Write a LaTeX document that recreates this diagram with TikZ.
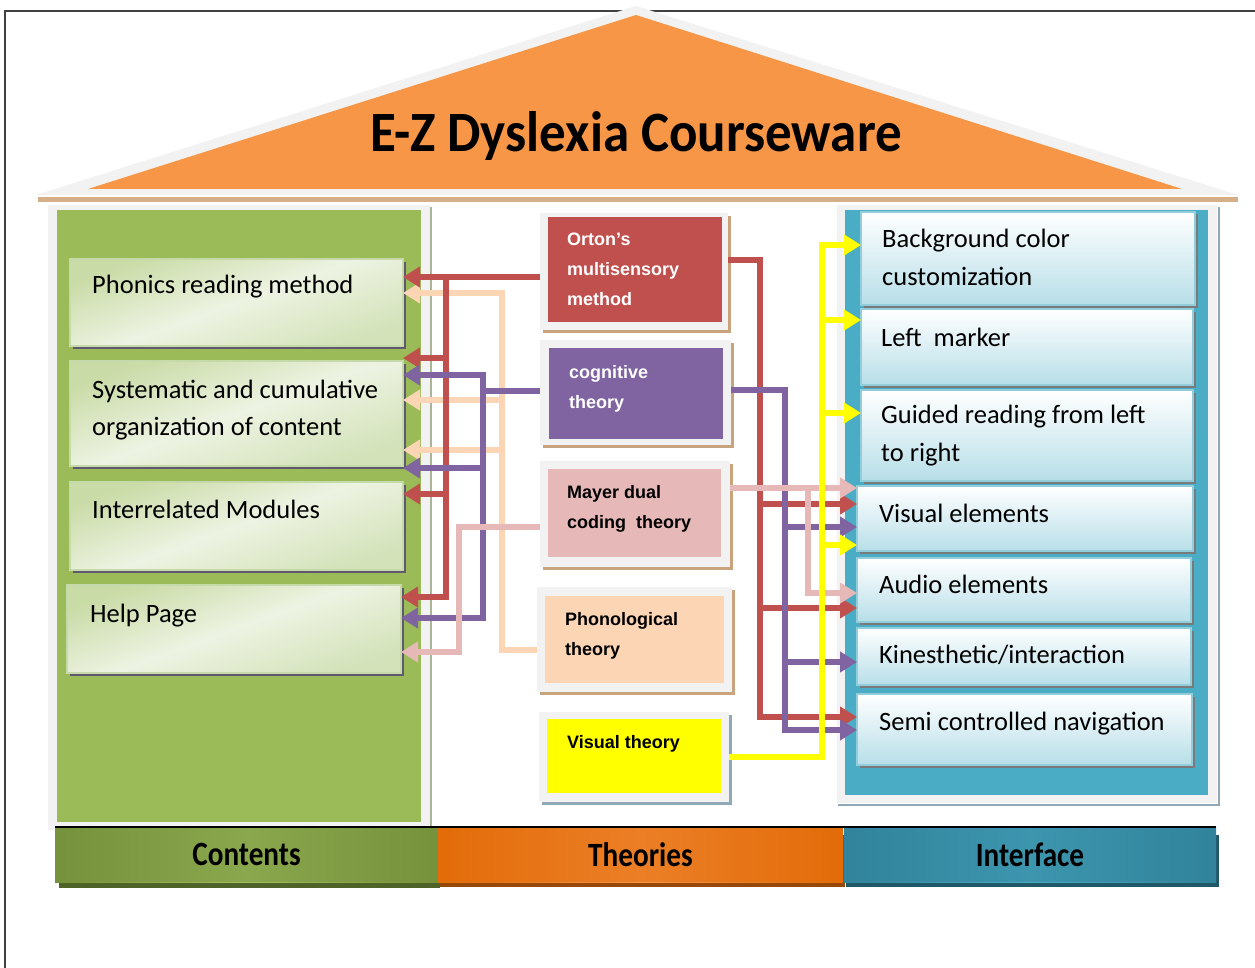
\documentclass[tikz,border=0pt]{standalone}
\usepackage{fontspec}
\usepackage{graphicx}
\setmainfont{Carlito}
\newfontfamily\thfont{Liberation Sans}
\usetikzlibrary{arrows.meta,fadings}
\definecolor{cRed}{HTML}{C0504D}
\definecolor{cPur}{HTML}{8064A2}
\definecolor{cPea}{HTML}{FCD5B5}
\definecolor{cPnk}{HTML}{E6B9B8}
\definecolor{cYel}{HTML}{FFFF00}
\definecolor{cOra}{HTML}{F79646}
\definecolor{cGry}{HTML}{F2F2F2}
\definecolor{cGrn}{HTML}{9BBB59}
\definecolor{cTeal}{HTML}{4BACC6}
\definecolor{cFrame}{HTML}{404040}
\definecolor{cTan}{HTML}{D6AE88}
\definecolor{lBord}{HTML}{C6D9A8}
\definecolor{lTop}{HTML}{C9DBA6}
\definecolor{lMid}{HTML}{EDF3E2}
\definecolor{lBot}{HTML}{D3E2B9}
\definecolor{lShad}{HTML}{5E5873}
\definecolor{rBord}{HTML}{92CDDC}
\definecolor{rBot}{HTML}{B7DEE8}
\definecolor{rShad}{HTML}{7A7A7A}
\definecolor{tShad}{HTML}{C9A27E}
\definecolor{vShad}{HTML}{8FA8B8}
\definecolor{gE}{HTML}{76923C}
\definecolor{gC}{HTML}{A3C263}
\definecolor{gS}{HTML}{4F6228}
\definecolor{oE}{HTML}{E36C09}
\definecolor{oC}{HTML}{F7964A}
\definecolor{oS}{HTML}{984806}
\definecolor{tE}{HTML}{31849B}
\definecolor{tC}{HTML}{4BACC6}
\definecolor{tS}{HTML}{215868}
\tikzfading[name=vband, top color=transparent!45, middle color=transparent!100, bottom color=transparent!45]
\newcommand\mlines[1]{\begin{tabular}[t]{@{}l@{}}#1\end{tabular}}
\begin{document}
\begin{tikzpicture}[x=1pt,y=-1pt,
  conn/.style={line width=6pt, line join=miter},
  arrowend/.style={-{Triangle[length=17pt,width=20pt]}},
  lbox/.style={draw=lBord, line width=2pt, top color=lTop, bottom color=lBot, middle color=lMid, shading angle=20,
     inner sep=0pt, outer sep=0pt, anchor=north west,
     preaction={fill=lShad, transform canvas={shift={(3pt,-3pt)}}}},
  rbox/.style={draw=rBord, line width=2pt, top color=white, bottom color=rBot,
     inner sep=0pt, outer sep=0pt, anchor=north west,
     preaction={fill=rShad, transform canvas={shift={(2.5pt,-2.5pt)}}}},
  tframe/.style={fill=cGry, inner sep=0pt, outer sep=0pt, anchor=north west,
     preaction={fill=#1, transform canvas={shift={(3pt,-3pt)}}}},
  ltext/.style={anchor=base west, inner sep=0pt, font=\fontsize{26.5}{37}\selectfont},
  rtext/.style={anchor=base west, inner sep=0pt, font=\fontsize{26.5}{38}\selectfont},
  ttext/.style={anchor=base west, inner sep=0pt, font=\thfont\bfseries\fontsize{18}{30}\selectfont},
  bar/.style n args={2}{shade, left color=#1, right color=#1, middle color=#2,
     postaction={fill=#1, path fading=vband}, inner sep=0pt, outer sep=0pt, anchor=north west,
     font=\fontsize{34}{36}\selectfont\bfseries}
]
\useasboundingbox (0,0) rectangle (1255,968);
\fill[white] (0,0) rectangle (1255,968);
\draw[cFrame, line width=1.5pt] (5,970) -- (5,11) -- (1257,11);

% roof
\fill[cGry] (636,6) -- (1238,195) -- (36,195) -- cycle;
\fill[cOra] (636,15) -- (1182,189) -- (88,189) -- cycle;
\node[anchor=base, inner sep=0pt, font=\fontsize{57}{60}\selectfont\bfseries] (title) at (636,152)
  {\scalebox{0.93}[1]{E-Z Dyslexia Courseware}};
\fill[cTan] (38,197) rectangle (1238,202);

% panels
\fill[cGry] (48,205) rectangle (430,830);
\fill[cGrn] (57,210) rectangle (421,822);
\draw[lBord!60!gray, line width=1.5pt] (431,207) -- (431,828);
\fill[cGry] (837,205) rectangle (1217,803);
\fill[cTeal] (845,210) rectangle (1208,795);
\draw[vShad, line width=2pt] (838,805) -- (1219,805) -- (1219,207);

% left boxes
\node[lbox, minimum width=333pt, minimum height=87pt] (phon) at (70,259) {};
\node[lbox, minimum width=333pt, minimum height=105pt] (sys) at (70,361) {};
\node[lbox, minimum width=333pt, minimum height=88pt] (inter) at (70,482) {};
\node[lbox, minimum width=334pt, minimum height=88pt] (help) at (67,585) {};
\node[ltext] (phonT) at (92,294) {Phonics reading method};
\node[ltext] (sysT) at (92,398) {\mlines{Systematic and cumulative\\organization of content}};
\node[ltext] (interT) at (92,518) {Interrelated Modules};
\node[ltext] (helpT) at (90,622) {Help Page};

% theory boxes
\node[tframe=tShad, minimum width=188pt, minimum height=117pt] (orton) at (540,213) {};
\fill[cRed] (548,217) rectangle (722,322);
\node[tframe=tShad, minimum width=191pt, minimum height=105pt] (cog) at (540,340) {};
\fill[cPur] (549,348) rectangle (723,439);
\node[tframe=tShad, minimum width=190pt, minimum height=106pt] (mayer) at (540,461) {};
\fill[cPnk] (548,469) rectangle (721,557);
\node[tframe=tShad, minimum width=195pt, minimum height=105pt] (phono) at (537,587) {};
\fill[cPea] (545,596) rectangle (724,683);
\node[tframe=vShad, minimum width=190pt, minimum height=90pt] (vth) at (539,712) {};
\fill[cYel] (547,719) rectangle (721,793);
\node[ttext, text=white] (ortonT) at (567,246) {\mlines{Orton’s\\multisensory\\method}};
\node[ttext, text=white] (cogT) at (569,378) {\mlines{cognitive\\theory}};
\node[ttext] (mayerT) at (567,498) {\mlines{Mayer dual\\coding\ \ theory}};
\node[ttext] (phonoT) at (565,625) {\mlines{Phonological\\theory}};
\node[ttext] (vthT) at (567,748) {Visual theory};

% right boxes
\node[rbox, minimum width=334pt, minimum height=93pt] (bg) at (861,212) {};
\node[rbox, minimum width=332pt, minimum height=76pt] (lm) at (861,309) {};
\node[rbox, minimum width=332pt, minimum height=91pt] (gr) at (861,390) {};
\node[rbox, minimum width=336pt, minimum height=65pt] (vis) at (857,486) {};
\node[rbox, minimum width=334pt, minimum height=64pt] (aud) at (857,558) {};
\node[rbox, minimum width=334pt, minimum height=57pt] (kin) at (857,628) {};
\node[rbox, minimum width=335pt, minimum height=71pt] (semi) at (857,694) {};
\node[rtext] (bgT) at (882,248) {\mlines{Background color\\customization}};
\node[rtext] (lmT) at (881,346) {Left\ \ marker};
\node[rtext] (grT) at (881,423) {\mlines{Guided reading from left\\to right}};
\node[rtext] (visT) at (879,522) {Visual elements};
\node[rtext] (audT) at (879,593) {Audio elements};
\node[rtext] (kinT) at (879,663) {Kinesthetic/interaction};
\node[rtext] (semiT) at (879,730) {Semi controlled navigation};

% bottom bars
\fill[gS] (59,835) rectangle (440,888);
\fill[oS] (440,835) rectangle (845,887);
\fill[tS] (846,835) rectangle (1219,887);
\node[bar={gE}{gC}, minimum width=383pt, minimum height=55pt] (barC) at (55,827) {\scalebox{0.86}[1]{Contents}};
\node[bar={oE}{oC}, minimum width=405pt, minimum height=55pt] (barT) at (438,827) {\scalebox{0.86}[1]{Theories}};
\node[bar={tE}{tC}, minimum width=372pt, minimum height=55pt] (barI) at (844,827) {\scalebox{0.86}[1]{Interface}};
\draw[black, line width=1.2pt] (barC.north west) -- (barI.north east);

% ---- connectors: left side ----
\coordinate (hT) at (502,293);
\coordinate (hB) at (502,650);
\draw[conn, cPea, arrowend] (phono.west |- hB) -- (hB) -- (hT) -- (phon.east |- hT);
\draw[conn, cPea, arrowend] (hT |- 0,400) -- (sys.east |- 0,400);
\draw[conn, cPea, arrowend] (hT |- 0,450) -- (sys.east |- 0,450);

\coordinate (rT) at (446,277);
\coordinate (rB) at (446,597);
\draw[conn, cRed, arrowend] (orton.west |- rT) -- (phon.east |- rT);
\draw[conn, cRed, arrowend] (rT) -- (rB) -- (help.east |- rB);
\draw[conn, cRed, arrowend] (rT |- 0,358) -- (sys.east |- 0,358);
\draw[conn, cRed, arrowend] (rT |- 0,494) -- (inter.east |- 0,494);

\coordinate (pT) at (483,375);
\coordinate (pB) at (483,618);
\coordinate (pC) at (483,391);
\draw[conn, cPur] (cog.west |- pC) -- (pC);
\draw[conn, cPur, arrowend] (pB) -- (pT) -- (sys.east |- pT);
\draw[conn, cPur, arrowend] (pT) -- (pB) -- (help.east |- pB);
\draw[conn, cPur, arrowend] (pT |- 0,468) -- (sys.east |- 0,468);

\coordinate (kT) at (459,527);
\coordinate (kB) at (459,652);
\draw[conn, cPnk, arrowend] (mayer.west |- kT) -- (kT) -- (kB) -- (help.east |- kB);

% ---- connectors: right side ----
\coordinate (RT) at (760,260);
\coordinate (RB) at (760,717);
\draw[conn, cRed, arrowend] (orton.east |- RT) -- (RT) -- (RB) -- (semi.west |- RB);
\draw[conn, cRed, arrowend] (RT |- 0,504) -- (vis.west |- 0,504);
\draw[conn, cRed, arrowend] (RT |- 0,608) -- (aud.west |- 0,608);

\coordinate (PT) at (785,390);
\coordinate (PB) at (785,730);
\draw[conn, cPur, arrowend] (cog.east |- PT) -- (PT) -- (PB) -- (semi.west |- PB);
\draw[conn, cPur, arrowend] (PT |- 0,527) -- (vis.west |- 0,527);
\draw[conn, cPur, arrowend] (PT |- 0,662) -- (kin.west |- 0,662);

\coordinate (KT) at (808,488);
\coordinate (KB) at (808,593);
\draw[conn, cPnk, arrowend] (mayer.east |- KT) -- (vis.west |- KT);
\draw[conn, cPnk, arrowend] (KT) -- (KB) -- (aud.west |- KB);

\coordinate (YT) at (822,245);
\coordinate (YB) at (822,757);
\draw[conn, cYel, arrowend] (vth.east |- YB) -- (YB) -- (YT) -- (bg.west |- YT);
\draw[conn, cYel, arrowend] (YT |- 0,320) -- (lm.west |- 0,320);
\draw[conn, cYel, arrowend] (YT |- 0,413) -- (gr.west |- 0,413);
\draw[conn, cYel, arrowend] (YT |- 0,545) -- (vis.west |- 0,545);
\end{tikzpicture}
\end{document}
